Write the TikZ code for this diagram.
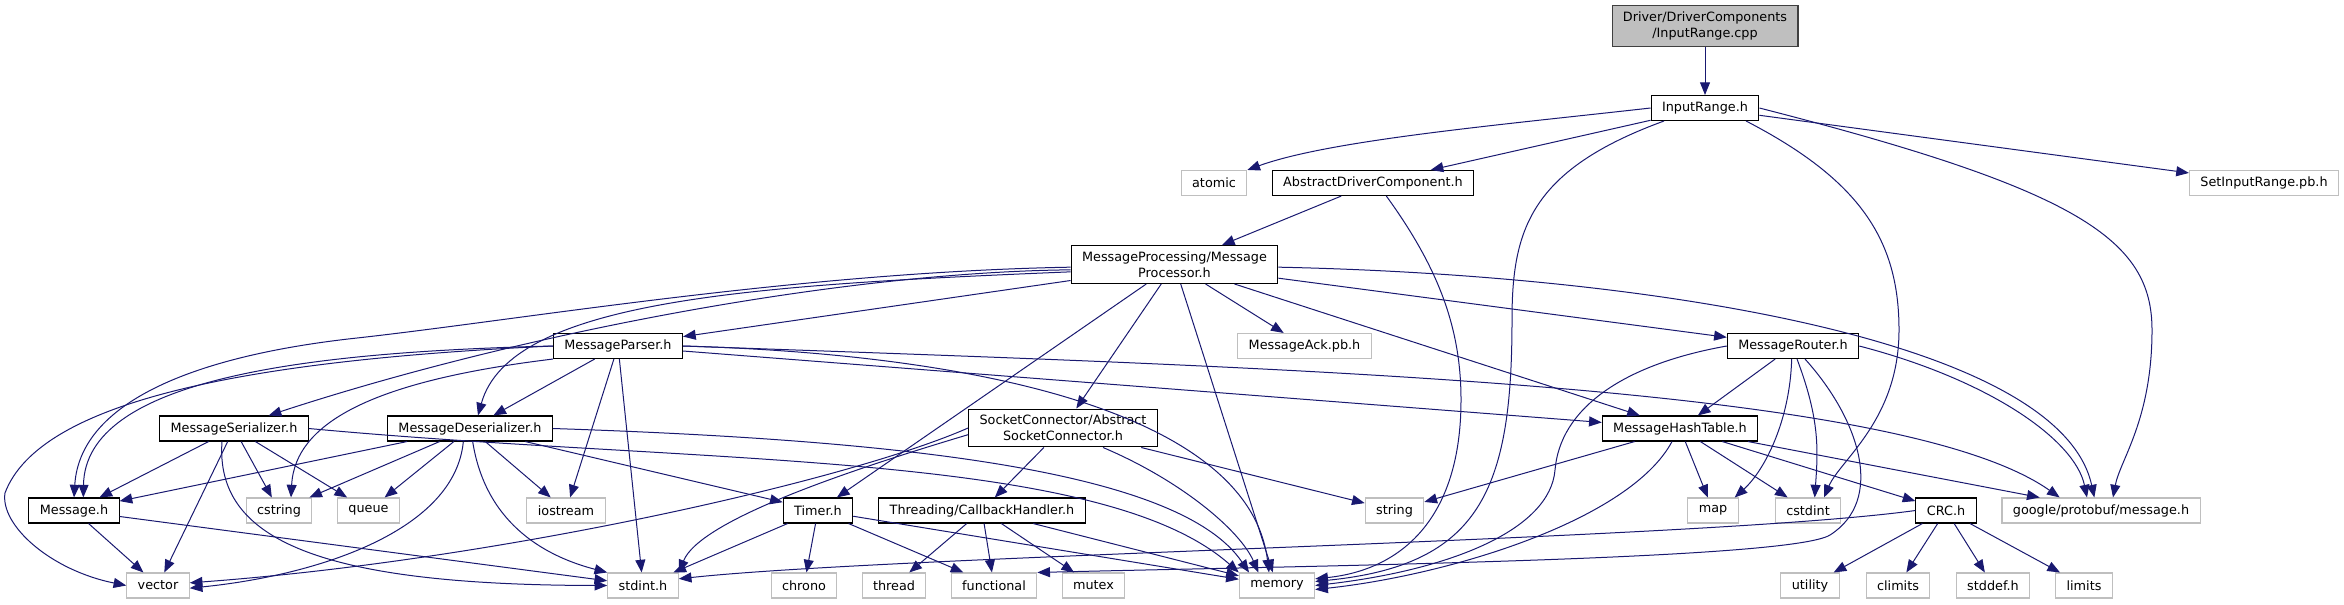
\documentclass[tikz,border=0pt]{standalone}
\usepackage{fontspec}
\setmainfont{DejaVu Sans}
\usepackage{xcolor}
\usepackage{tikz}
\usetikzlibrary{arrows.meta}
\definecolor{depblue}{HTML}{191970}
\definecolor{sysgray}{HTML}{BFBFBF}
\tikzset{
  filebox/.style={rectangle, line width=0.8pt, inner xsep=8.2pt, inner ysep=4.5pt, minimum height=18.75pt, align=center, font=\fontsize{9.6}{12}\selectfont},
  mainfile/.style={filebox, draw=black!75, fill=sysgray},
  hdr/.style={filebox, draw=black},
  sysinc/.style={filebox, draw=sysgray},
  dep/.style={color=depblue, line width=0.75pt, -{Triangle[length=9.5pt,width=7.5pt]}}
}
\begin{document}
\begin{tikzpicture}[x=0.75pt,y=-0.75pt]
\useasboundingbox (0,0) rectangle (2344,604);
\node[mainfile] (cpp) at (1705,26) {Driver/DriverComponents\\/InputRange.cpp};
\node[hdr] (inrange) at (1705,108) {InputRange.h};
\node[sysinc] (atomic) at (1214,183) {atomic};
\node[hdr] (adc) at (1373,183) {AbstractDriverComponent.h};
\node[sysinc] (setrange) at (2264,183) {SetInputRange.pb.h};
\node[hdr] (proc) at (1174.5,264.5) {MessageProcessing/Message\\Processor.h};
\node[hdr] (parser) at (618,346) {MessageParser.h};
\node[sysinc] (ack) at (1304.5,346) {MessageAck.pb.h};
\node[hdr] (router) at (1793,346) {MessageRouter.h};
\node[hdr] (ser) at (234,428.5) {MessageSerializer.h};
\node[hdr] (deser) at (470,428.5) {MessageDeserializer.h};
\node[hdr] (sock) at (1063,428) {SocketConnector/Abstract\\SocketConnector.h};
\node[hdr] (hash) at (1680,428.5) {MessageHashTable.h};
\node[hdr] (msg) at (74,510.5) {Message.h};
\node[sysinc] (cstring) at (279,510.5) {cstring};
\node[sysinc] (queue) at (368.5,510.5) {queue};
\node[sysinc] (iostream) at (566,510.5) {iostream};
\node[hdr] (timer) at (818,510.5) {Timer.h};
\node[hdr] (cb) at (982,510.5) {Threading/CallbackHandler.h};
\node[sysinc] (string) at (1394.5,510.5) {string};
\node[sysinc] (map) at (1713,510.5) {map};
\node[sysinc] (cstdint) at (1808,510.5) {cstdint};
\node[hdr] (crc) at (1946,510.5) {CRC.h};
\node[sysinc] (pbmsg) at (2101,510.5) {google/protobuf/message.h};
\node[sysinc] (vector) at (158,585.5) {vector};
\node[sysinc] (stdint) at (643,585.5) {stdint.h};
\node[sysinc] (chrono) at (804,585.5) {chrono};
\node[sysinc] (thread) at (894,585.5) {thread};
\node[sysinc] (functional) at (994,585.5) {functional};
\node[sysinc] (mutex) at (1093.5,585.5) {mutex};
\node[sysinc] (memory) at (1277,585.5) {memory};
\node[sysinc] (utility) at (1810,585.5) {utility};
\node[sysinc] (climits) at (1898,585.5) {climits};
\node[sysinc] (stddef) at (1993,585.5) {stddef.h};
\node[sysinc] (limits) at (2084,585.5) {limits};
\draw[dep] (cpp) -- (inrange);
\draw[dep] (inrange.west) .. controls (1500,125) and (1330,140) .. (atomic.north east);
\draw[dep] (inrange) -- (adc);
\draw[dep] ([xshift=10pt]inrange.south west) .. controls (1530,170) and (1512,230) .. (1512,320) .. controls (1512,490) and (1480,565) .. ([yshift=3pt]memory.east);
\draw[dep] ([xshift=-10pt]inrange.south east) .. controls (1860,180) and (1899,240) .. (1899,330) .. controls (1899,420) and (1840,460) .. ([xshift=12pt]cstdint.north);
\draw[dep] (inrange.east) .. controls (2080,190) and (2152,240) .. (2152,330) .. controls (2152,420) and (2120,460) .. ([xshift=9pt]pbmsg.north);
\draw[dep] (inrange) -- (setrange);
\draw[dep] (adc) -- (proc);
\draw[dep] ([xshift=10pt]adc.south) .. controls (1440,270) and (1461,330) .. (1461,400) .. controls (1461,520) and (1400,570) .. ([yshift=5pt]memory.east);
\draw[dep] ([yshift=-12pt]proc.west) -- (parser);
\draw[dep] ([yshift=-4pt]proc.west) .. controls (850,272) and (530,330) .. ([xshift=26pt]ser.north);
\draw[dep] ([yshift=-5.5pt]proc.west) .. controls (750,285) and (510,300) .. ([xshift=6pt]deser.north);
\draw[dep] ([yshift=-2pt]proc.west) .. controls (800,272) and (520,320) .. (357,338) .. controls (200,355) and (80,400) .. (msg.north);
\draw[dep] (proc) -- (timer);
\draw[dep] (proc) -- (sock);
\draw[dep] (proc) -- (memory);
\draw[dep] (proc) -- (ack);
\draw[dep] (proc) -- (hash);
\draw[dep] (proc) -- (router);
\draw[dep] ([yshift=-2pt]proc.east) .. controls (1650,275) and (2060,340) .. ([xshift=-5pt]pbmsg.north);
\draw[dep] (parser.west) .. controls (300,352) and (85,380) .. ([xshift=7pt]msg.north);
\draw[dep] (parser.west) .. controls (250,360) and (40,400) .. (5,493) .. controls (0,525) and (50,570) .. (vector.west);
\draw[dep] (parser.south west) .. controls (380,380) and (295,420) .. ([xshift=9pt]cstring.north);
\draw[dep] (parser) -- (deser);
\draw[dep] (parser) -- (iostream);
\draw[dep] (parser) -- (stdint);
\draw[dep] (parser.east) .. controls (1000,355) and (1250,420) .. ([xshift=-6pt]memory.north);
\draw[dep] (parser) -- (hash);
\draw[dep] (parser.east) .. controls (1300,368) and (1900,385) .. ([xshift=-31pt]pbmsg.north);
\draw[dep] (ser) -- (msg);
\draw[dep] (ser) -- (vector);
\draw[dep] (ser) -- (cstring);
\draw[dep] (ser) -- (queue);
\draw[dep] ([xshift=-9pt]ser.south) .. controls (215,540) and (320,585) .. (stdint.west);
\draw[dep] (ser.east) .. controls (700,465) and (1100,450) .. (memory.north west);
\draw[dep] (deser) -- (msg);
\draw[dep] (deser) -- (cstring);
\draw[dep] (deser) -- (queue);
\draw[dep] ([xshift=-5pt]deser.south) .. controls (455,530) and (320,575) .. ([yshift=-2pt]vector.east);
\draw[dep] ([xshift=2pt]deser.south) .. controls (485,520) and (540,555) .. (stdint.north west);
\draw[dep] (deser) -- (iostream);
\draw[dep] (deser) -- (timer);
\draw[dep] (deser.east) .. controls (900,440) and (1180,470) .. ([xshift=-21pt]memory.north);
\draw[dep] (sock.west) .. controls (850,480) and (500,560) .. ([yshift=2pt]vector.east);
\draw[dep] ([yshift=-5pt]sock.west) .. controls (850,470) and (700,520) .. (stdint.north east);
\draw[dep] (sock) -- (cb);
\draw[dep] (sock) -- (string);
\draw[dep] ([xshift=30pt]sock.south) .. controls (1180,480) and (1240,530) .. ([xshift=-14pt]memory.north);
\draw[dep] (msg) -- (vector);
\draw[dep] (msg) -- (stdint);
\draw[dep] (timer) -- (stdint);
\draw[dep] (timer) -- (chrono);
\draw[dep] (timer) -- (functional);
\draw[dep] (timer) -- (memory);
\draw[dep] (cb) -- (thread);
\draw[dep] (cb) -- (functional);
\draw[dep] (cb) -- (mutex);
\draw[dep] (cb) -- (memory);
\draw[dep] (router) -- (hash);
\draw[dep] (router.west) .. controls (1620,365) and (1560,410) .. (1555,470) .. controls (1550,530) and (1450,570) .. (memory.east);
\draw[dep] ([xshift=-1pt]router.south) .. controls (1790,420) and (1765,470) .. ([xshift=-3pt]map.north east);
\draw[dep] ([xshift=3pt]router.south) .. controls (1820,420) and (1818,450) .. ([xshift=5pt]cstdint.north);
\draw[dep] ([xshift=9pt]router.south) .. controls (1860,420) and (1885,500) .. (1830,535) .. controls (1790,560) and (1300,566) .. (functional.north east);
\draw[dep] (router.east) .. controls (1990,380) and (2075,440) .. ([xshift=-10.5pt]pbmsg.north);
\draw[dep] (hash) -- (string);
\draw[dep] ([xshift=-6pt]hash.south) .. controls (1630,520) and (1450,575) .. ([yshift=-3pt]memory.east);
\draw[dep] (hash) -- (map);
\draw[dep] (hash) -- (cstdint);
\draw[dep] (hash) -- (crc);
\draw[dep] (hash) -- ([xshift=-46pt]pbmsg.north);
\draw[dep] (crc.west) .. controls (1700,540) and (900,555) .. ([yshift=5pt]stdint.east);
\draw[dep] (crc) -- (utility);
\draw[dep] (crc) -- (climits);
\draw[dep] (crc) -- (stddef);
\draw[dep] (crc) -- (limits);
\end{tikzpicture}
\end{document}
